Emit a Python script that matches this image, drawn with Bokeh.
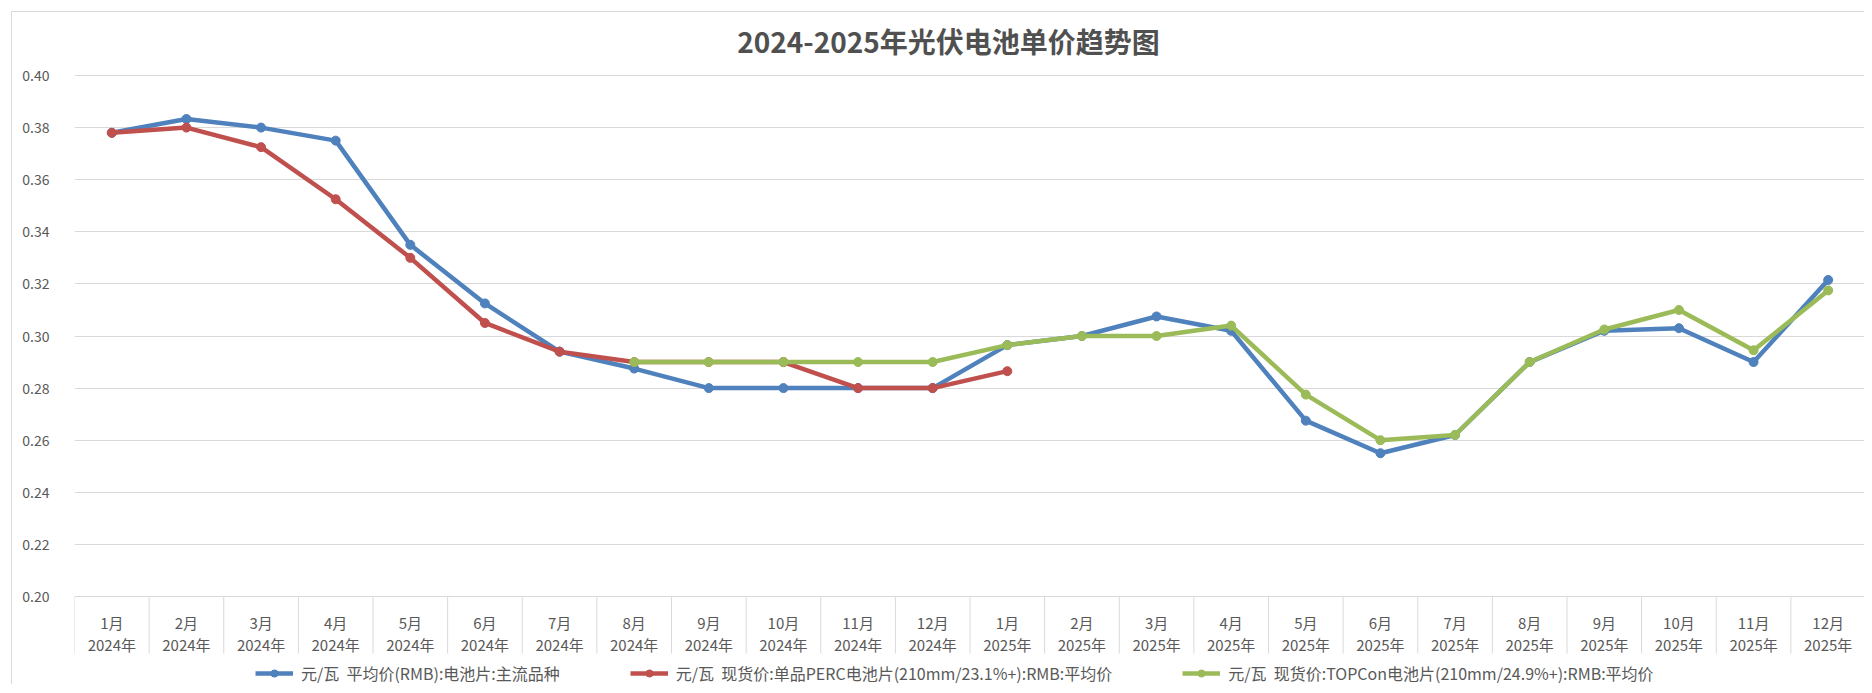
from bokeh.plotting import figure
from bokeh.models import (FixedTicker, Label, Legend, LegendItem, NumeralTickFormatter,
                          ColumnDataSource, LinearAxis, Range1d)
from bokeh.core.properties import value
from bokeh.embed import file_html
from bokeh.resources import INLINE

# ---------------- data ----------------
months = ["1月", "2月", "3月", "4月", "5月", "6月", "7月", "8月", "9月", "10月", "11月", "12月",
          "1月", "2月", "3月", "4月", "5月", "6月", "7月", "8月", "9月", "10月", "11月", "12月"]
years = ["2024年"] * 12 + ["2025年"] * 12
x_pos = list(range(24))

avg_price = [0.378, 0.3833, 0.380, 0.375, 0.335, 0.3125, 0.294, 0.2875, 0.280, 0.280, 0.280, 0.280,
             0.2965, 0.300, 0.3075, 0.302, 0.2675, 0.255, 0.262, 0.290, 0.302, 0.303, 0.290, 0.3215]
perc_price = [0.378, 0.380, 0.3725, 0.3525, 0.330, 0.305, 0.294, 0.290, 0.290, 0.290, 0.280, 0.280,
              0.2865, None, None, None, None, None, None, None, None, None, None, None]
topcon_price = [None, None, None, None, None, None, None, 0.290, 0.290, 0.290, 0.290, 0.290,
                0.2965, 0.300, 0.300, 0.304, 0.2775, 0.260, 0.262, 0.290, 0.3025, 0.310, 0.2945, 0.3175]

y_ticks = [0.20, 0.22, 0.24, 0.26, 0.28, 0.30, 0.32, 0.34, 0.36, 0.38, 0.40]

labels = ["元/瓦  平均价(RMB):电池片:主流品种",
          "元/瓦  现货价:单品PERC电池片(210mm/23.1%+):RMB:平均价",
          "元/瓦  现货价:TOPCon电池片(210mm/24.9%+):RMB:平均价"]
title_text = "2024-2025年光伏电池单价趋势图"

colors = ["#4F81BD", "#C0504D", "#9BBB59"]
FONT = "Noto Sans CJK SC"
TXT = "#595959"
GRID = "#D9D9D9"

# ---------------- layout (pixels) ----------------
W, H = 1853, 673          # canvas size
LEFT = 62                 # room for the value axis
TOP_GAP = 63              # canvas top -> 0.40 line
TABLE_H = 89              # 0.20 line -> canvas bottom (category table + legend)
plot_px = H - TOP_GAP - TABLE_H
y_lo, y_hi = y_ticks[0], y_ticks[-1]
span = y_hi - y_lo
y_start = y_lo - TABLE_H / plot_px * span
y_end = y_hi + TOP_GAP / plot_px * span

p = figure(width=W, height=H, x_range=(-0.5, len(months) - 0.5), y_range=(y_start, y_end),
           x_axis_location=None, y_axis_location=None,
           output_backend="svg", toolbar_location=None,
           min_border_left=LEFT, min_border_right=0, min_border_top=0, min_border_bottom=0)
p.extra_y_ranges = {"px": Range1d(0, H)}
p.styles = {"border-left": "1px solid #D9D9D9", "border-top": "1px solid #D9D9D9",
            "margin-left": "11px", "margin-top": "11px"}
p.outline_line_color = None

yax = LinearAxis(ticker=FixedTicker(ticks=y_ticks), formatter=NumeralTickFormatter(format="0.00"))
yax.axis_line_color = None
yax.major_tick_line_color = None
yax.minor_tick_line_color = None
yax.major_label_standoff = 19
yax.major_label_text_font = FONT
yax.major_label_text_font_size = "14px"
yax.major_label_text_color = TXT
p.add_layout(yax, "left")

p.xgrid.visible = False
p.ygrid.ticker = FixedTicker(ticks=y_ticks)
p.ygrid.grid_line_color = GRID
p.ygrid.grid_line_width = 1

# ---- category table under the plot (dividers + two-line labels) ----
bounds = [i - 0.5 for i in range(len(months) + 1)]
p.segment(x0=bounds, x1=bounds, y0=[TABLE_H] * len(bounds), y1=[TABLE_H - 57] * len(bounds),
          y_range_name="px", line_color=GRID, line_width=1)
lab_src = ColumnDataSource(dict(x=x_pos, m=months, yr=years,
                                ym=[TABLE_H - 26] * len(x_pos), yy=[TABLE_H - 48] * len(x_pos)))
for col_y, col_t in (("ym", "m"), ("yy", "yr")):
    p.text(x="x", y=col_y, text=col_t, source=lab_src, y_range_name="px",
           text_font=value(FONT), text_font_size="15px", text_color=TXT,
           text_align="center", text_baseline="middle")

# ---- series ----
series = [avg_price, perc_price, topcon_price]
items = []
for vals, col, lab in zip(series, colors, labels):
    ys = [float("nan") if v is None else v for v in vals]
    src = ColumnDataSource(dict(x=x_pos, y=ys))
    rl = p.line("x", "y", source=src, line_color=col, line_width=4.5, line_join="round")
    rs = p.scatter("x", "y", source=src, size=9, fill_color=col, line_color=col)
    items.append(LegendItem(label=lab, renderers=[rl, rs]))

legend = Legend(items=items, orientation="horizontal", location=(181, 0))
legend.border_line_color = None
legend.background_fill_alpha = 0
legend.padding = 0
legend.margin = 0
legend.spacing = 70
legend.glyph_width = 38
legend.glyph_height = 18
legend.label_height = 18
legend.label_standoff = 8
legend.label_text_font = FONT
legend.label_text_font_size = "16px"
legend.label_text_color = TXT
p.add_layout(legend)

title = Label(x=874, y=H - 28, x_units="screen", y_units="screen", text=title_text,
              text_align="center", text_baseline="middle", text_font=FONT,
              text_font_size="28px", text_font_style="bold", text_color="#505050")
p.add_layout(title)

open("out.html", "w").write(file_html(p, INLINE))
